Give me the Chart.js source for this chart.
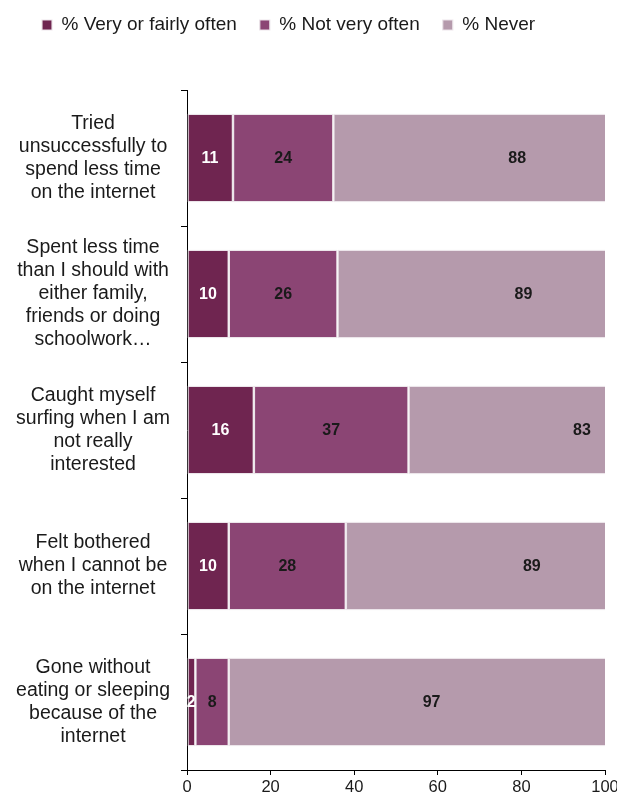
<!DOCTYPE html>
<html>
<head>
<meta charset="utf-8">
<script src="https://cdn.jsdelivr.net/npm/chart.js@4"></script>
<style>
  html, body { margin: 0; padding: 0; background: #ffffff; }
  #wrap { width: 617px; height: 798px; position: relative; }
</style>
</head>
<body>
<div id="wrap"><canvas id="c"></canvas></div>
<script>
const categories = [
  ["Tried", "unsuccessfully to", "spend less time", "on the internet"],
  ["Spent less time", "than I should with", "either family,", "friends or doing", "schoolwork\u2026"],
  ["Caught myself", "surfing when I am", "not really", "interested"],
  ["Felt bothered", "when I cannot be", "on the internet"],
  ["Gone without", "eating or sleeping", "because of the", "internet"]
];
const seriesNames = ["% Very or fairly often", "% Not very often", "% Never"];
const veryOften = [11, 10, 16, 10, 2];
const notVeryOften = [24, 26, 37, 28, 8];
const never = [88, 89, 83, 89, 97];
const xTicks = [0, 20, 40, 60, 80, 100];

const colors = ["#6F2550", "#8B4574", "#B59AAC"];
const labelColors = ["#ffffff", "#1a1a1a", "#1a1a1a"];
const FONT = "'Liberation Sans', Arial, sans-serif";

const legendAdjust = {
  id: 'legendAdjust',
  beforeInit(chart) {
    const fit = chart.legend.fit;
    chart.legend.fit = function () {
      fit.bind(chart.legend)();
      this.height = 90;
    };
  },
  afterLayout(chart) {
    chart.legend.left += 19;
    chart.legend.right += 19;
    chart.legend.top = -7.5;
  }
};

const valueLabels = {
  id: 'valueLabels',
  afterDatasetsDraw(chart) {
    const ctx = chart.ctx;
    const xs = chart.scales.x;
    ctx.save();
    ctx.font = "bold 16px " + FONT;
    ctx.textAlign = 'center';
    ctx.textBaseline = 'middle';
    chart.data.datasets.forEach((ds, di) => {
      const meta = chart.getDatasetMeta(di);
      meta.data.forEach((bar, i) => {
        let start = 0;
        for (let k = 0; k < di; k++) start += chart.data.datasets[k].data[i];
        const end = start + ds.data[i];
        const cx = (xs.getPixelForValue(start) + xs.getPixelForValue(end)) / 2;
        ctx.fillStyle = labelColors[di];
        ctx.fillText(String(ds.data[i]), cx, bar.y + 1);
      });
    });
    ctx.restore();
  }
};

new Chart(document.getElementById('c'), {
  type: 'bar',
  data: {
    labels: categories,
    datasets: [
      { label: seriesNames[0], data: veryOften, backgroundColor: colors[0] },
      { label: seriesNames[1], data: notVeryOften, backgroundColor: colors[1] },
      { label: seriesNames[2], data: never, backgroundColor: colors[2] }
    ].map(d => Object.assign(d, {
      borderColor: 'rgba(235,228,233,0.95)',
      borderWidth: 1.2,
      borderSkipped: false,
      barPercentage: 0.65,
      categoryPercentage: 1.0
    }))
  },
  options: {
    indexAxis: 'y',
    responsive: true,
    maintainAspectRatio: false,
    animation: false,
    layout: { padding: { left: 0, right: 12, top: 0, bottom: 0 } },
    plugins: {
      legend: {
        position: 'top',
        align: 'start',
        labels: {
          boxWidth: 10,
          boxHeight: 10,
          padding: 23,
          color: '#1a1a1a',
          font: { family: FONT, size: 19 }
        }
      },
      tooltip: { enabled: false }
    },
    scales: {
      x: {
        stacked: true,
        min: 0,
        max: 100,
        afterBuildTicks(scale) { scale.ticks = xTicks.map(v => ({ value: v })); },
        afterFit(scale) { scale.height = 28; scale.paddingLeft = 0; scale.paddingRight = 0; },
        grid: { display: true, drawOnChartArea: false, drawTicks: true, tickLength: 5, tickColor: '#000' },
        border: { display: true, color: '#000', width: 1 },
        ticks: { color: '#1a1a1a', padding: 3, maxRotation: 0, font: { family: FONT, size: 16.5 } }
      },
      y: {
        stacked: true,
        afterFit(scale) { scale.width = 187; scale.paddingTop = 0; scale.paddingBottom = 0; },
        grid: { display: true, drawOnChartArea: false, drawTicks: true, tickLength: 6, tickColor: '#000', offset: true },
        border: { display: true, color: '#000', width: 1 },
        ticks: {
          color: '#1a1a1a',
          crossAlign: 'center',
          padding: 11,
          autoSkip: false,
          font: { family: FONT, size: 19.5, lineHeight: 1.18 }
        }
      }
    }
  },
  plugins: [legendAdjust, valueLabels]
});
</script>
</body>
</html>
